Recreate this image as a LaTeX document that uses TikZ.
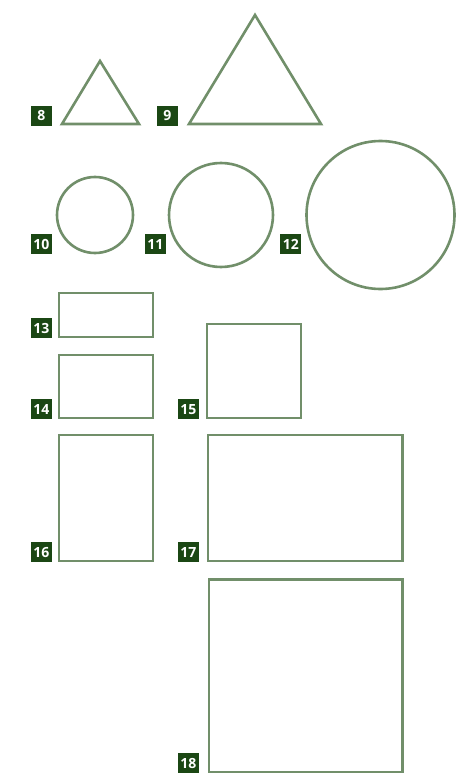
\documentclass[tikz,border=0pt]{standalone}
\usepackage{fontspec}
\usetikzlibrary{positioning}
\newfontfamily\numfont{Open Sans}
\definecolor{shapegreen}{HTML}{718F6A}
\definecolor{tagblack}{HTML}{1B4714}

\begin{document}
\begin{tikzpicture}[
  x=1pt, y=-1pt,
  shp/.style={draw=shapegreen, line width=2.6pt, inner sep=0pt, outer sep=0pt},
  rbox/.style={shp, rectangle, anchor=north west},
  cbox/.style={shp, circle},
  tri/.style={draw=shapegreen, line width=2.6pt, line join=miter},
  num/.style={fill=tagblack, text=white, inner sep=0pt,
              minimum width=21pt, minimum height=20pt,
              font=\numfont\bfseries\fontsize{14}{14}\selectfont},
  rnum/.style={num, anchor=south east, yshift=-1.3pt}
]
\useasboundingbox (0,0) rectangle (472,773);
% triangles
\draw[tri] (62,124) coordinate (t8) -- (100,61) -- (139,124) -- cycle;
\draw[tri] (189,124) coordinate (t9) -- (255,15) -- (321,124) -- cycle;
\node (n8) [num, left=10pt of t8, anchor=south east, yshift=-2pt] {8};
\node (n9) [num, left=11pt of t9, anchor=south east, yshift=-2pt] {9};
% circles, tags share the baseline of the smallest one
\node (c10) [cbox, minimum size=76pt] at (95,215) {};
\node (c11) [cbox, minimum size=104pt] at (221,215) {};
\node (c12) [cbox, minimum size=148pt] at (380.5,215) {};
\coordinate (c10sw) at ([yshift=-1.3pt]c10.west |- c10.south);
\coordinate (c11sw) at (c11.west |- c10sw);
\coordinate (c12sw) at (c12.west |- c10sw);
\node (n10) [num, left=5pt of c10sw, anchor=south east] {10};
\node (n11) [num, left=3pt of c11sw, anchor=south east] {11};
\node (n12) [num, left=5pt of c12sw, anchor=south east] {12};
% rectangles
\node (r13) [rbox, minimum width=94pt, minimum height=44pt] at (59,293) {};
\node (r14) [rbox, minimum width=94pt, minimum height=63pt] at (59,355) {};
\node (r15) [rbox, minimum width=94pt, minimum height=94pt] at (207,324) {};
\node (r16) [rbox, minimum width=94pt, minimum height=126pt] at (59,435) {};
\node (r17) [rbox, minimum width=194.5pt, minimum height=126pt] at (208,435) {};
\node (r18) [rbox, minimum width=193.5pt, minimum height=192.5pt] at (209,579.5) {};
\node (n13) [left=7pt of r13.south west, rnum] {13};
\node (n14) [left=7pt of r14.south west, rnum] {14};
\node (n15) [left=8pt of r15.south west, rnum] {15};
\node (n16) [left=7pt of r16.south west, rnum] {16};
\node (n17) [left=9pt of r17.south west, rnum] {17};
\node (n18) [left=10pt of r18.south west, rnum] {18};
\end{tikzpicture}
\end{document}
